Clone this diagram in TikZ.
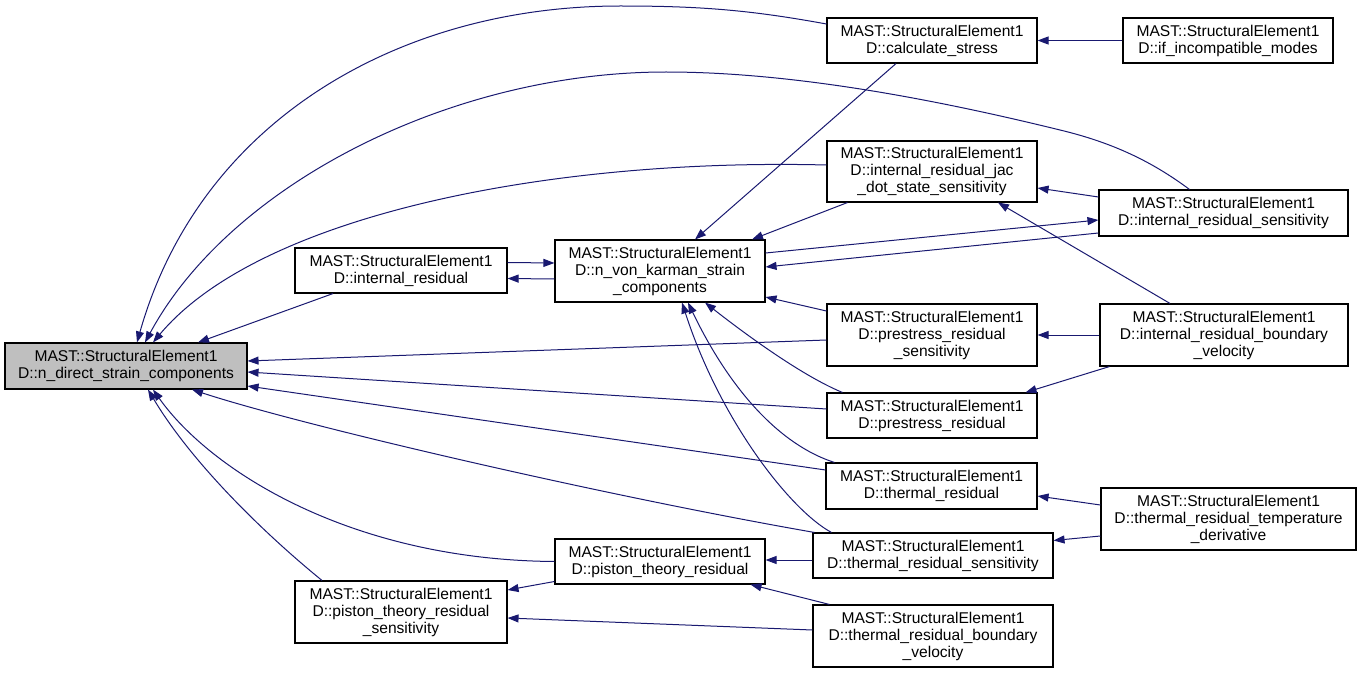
\documentclass[tikz,border=0pt]{standalone}
\usepackage{fontspec}
\setmainfont{Liberation Sans}
\usepackage{xcolor}
\definecolor{edgeBlue}  {HTML}{191970}
\definecolor{focusBack} {HTML}{BFBFBF}
\usetikzlibrary{arrows.meta}

\tikzset{
    fn/.style={draw=black, line width=1.1pt, fill=white, align=center,
               inner sep=2pt, minimum width=210pt, minimum height=45pt,
               font=\fontsize{15.6}{17}\selectfont},
    focus/.style={fn, fill=focusBack},
    call/.style={draw=edgeBlue, line width=1pt, -{Triangle[length=11pt, width=8pt]}},
}

\begin{document}
\begin{tikzpicture}[x=1pt, y=-1pt]
    \useasboundingbox (0,0) rectangle (1361,674);

    % --- The function itself and its direct callers ---
    \node[focus, minimum width=242pt, minimum height=46pt] (nds) at (126,366)
        {MAST::StructuralElement1\\D::n\_direct\_strain\_components};
    \node[fn, minimum width=212pt] (intres) at (401,270.5)
        {MAST::StructuralElement1\\D::internal\_residual};
    \node[fn, minimum height=62pt] (nvk) at (660,271)
        {MAST::StructuralElement1\\D::n\_von\_karman\_strain\\\_components};
    \node[fn, minimum width=212pt, minimum height=62pt] (pistsens) at (401,612)
        {MAST::StructuralElement1\\D::piston\_theory\_residual\\\_sensitivity};
    \node[fn] (piston) at (660,561.5)
        {MAST::StructuralElement1\\D::piston\_theory\_residual};

    % --- Third column ---
    \node[fn] (calcstress) at (932,40.5)
        {MAST::StructuralElement1\\D::calculate\_stress};
    \node[fn, minimum height=61pt] (jacdot) at (932,171.5)
        {MAST::StructuralElement1\\D::internal\_residual\_jac\\\_dot\_state\_sensitivity};
    \node[fn, minimum height=62pt] (prsens) at (932,335)
        {MAST::StructuralElement1\\D::prestress\_residual\\\_sensitivity};
    \node[fn] (prres) at (932,415.5)
        {MAST::StructuralElement1\\D::prestress\_residual};
    \node[fn, minimum width=211pt, minimum height=46pt] (thres) at (931.5,486)
        {MAST::StructuralElement1\\D::thermal\_residual};
    \node[fn, minimum width=240pt] (thsens) at (933,555.5)
        {MAST::StructuralElement1\\D::thermal\_residual\_sensitivity};
    \node[fn, minimum width=240pt, minimum height=62pt] (thbv) at (933,636)
        {MAST::StructuralElement1\\D::thermal\_residual\_boundary\\\_velocity};

    % --- Outer column ---
    \node[fn] (incomp) at (1228,40.5)
        {MAST::StructuralElement1\\D::if\_incompatible\_modes};
    \node[fn, minimum width=249pt, minimum height=46pt] (intressens) at (1223.5,213)
        {MAST::StructuralElement1\\D::internal\_residual\_sensitivity};
    \node[fn, minimum width=248pt, minimum height=62pt] (intbv) at (1224,335)
        {MAST::StructuralElement1\\D::internal\_residual\_boundary\\\_velocity};
    \node[fn, minimum width=255pt, minimum height=62pt] (thtemp) at (1228.5,519)
        {MAST::StructuralElement1\\D::thermal\_residual\_temperature\\\_derivative};

    % --- Calls into n_direct_strain_components ---
    \draw[call] ([yshift=16.5pt]calcstress.west) .. controls (750,10) and (700,6) .. (620,6)
        .. controls (400,6) and (200,120) .. ([xshift=11pt]nds.north);
    \draw[call] ([xshift=-34pt]intressens.north) .. controls (1150,160) and (1110,142) .. (1060,130)
        .. controls (950,103) and (800,72) .. (666,72)
        .. controls (450,72) and (230,185) .. ([xshift=19pt]nds.north);
    \draw[call] ([yshift=6.5pt]jacdot.west) .. controls (550,158) and (260,215) .. ([xshift=27pt]nds.north);
    \draw[call] ([xshift=-68pt]intres.south) -- ([xshift=72pt]nds.north);
    \draw[call] ([yshift=-5pt]prsens.west) -- ([yshift=5pt]nds.east);
    \draw[call] ([yshift=6.5pt]prres.west) -- ([yshift=-6pt]nds.east);
    \draw[call] ([yshift=16pt]thres.west) -- ([yshift=-20pt]nds.east);
    \draw[call] ([xshift=2pt]thsens.north west) .. controls (600,495) and (300,425) .. ([xshift=66pt]nds.south);
    \draw[call] (piston.west) .. controls (350,560) and (210,470) .. ([xshift=27pt]nds.south);
    \draw[call] ([xshift=-79pt]pistsens.north) .. controls (260,530) and (190,460) .. ([xshift=22pt]nds.south);

    % --- Calls into n_von_karman_strain_components ---
    \draw[call] ([yshift=8pt]intres.east) -- ([yshift=8pt]nvk.west);
    \draw[call] ([yshift=-8pt]nvk.west) -- ([yshift=-8pt]intres.east);
    \draw[call] ([xshift=-36pt]calcstress.south) -- ([xshift=35pt]nvk.north);
    \draw[call] ([xshift=21pt]jacdot.south west) -- ([xshift=92pt]nvk.north);
    \draw[call] ([yshift=18pt]nvk.east) -- ([yshift=-7pt]intressens.west);
    \draw[call] ([yshift=-20pt]intressens.west) -- ([yshift=4pt]nvk.east);
    \draw[call] ([yshift=24pt]prsens.west) -- ([yshift=-26pt]nvk.east);
    \draw[call] ([xshift=16pt]prres.north west) .. controls (800,375) and (740,330) .. ([xshift=45pt]nvk.south);
    \draw[call] ([xshift=9pt]thres.north west) .. controls (780,445) and (730,390) .. ([xshift=28pt]nvk.south);
    \draw[call] ([xshift=19pt]thsens.north west) .. controls (790,510) and (720,420) .. ([xshift=22pt]nvk.south);

    % --- Remaining calls ---
    \draw[call] (incomp.west) -- (calcstress.east);
    \draw[call] ([yshift=16pt]intressens.west) -- ([yshift=-16.5pt]jacdot.east);
    \draw[call] ([xshift=-54pt]intbv.north) -- ([xshift=66pt]jacdot.south);
    \draw[call] (intbv.west) -- (prsens.east);
    \draw[call] ([xshift=10pt]intbv.south west) -- ([xshift=-12pt]prres.north east);
    \draw[call] ([yshift=14pt]thtemp.west) -- ([yshift=-10pt]thres.east);
    \draw[call] ([yshift=-17pt]thtemp.west) -- ([yshift=15pt]thsens.east);
    \draw[call] ([yshift=-4.5pt]thsens.west) -- ([yshift=1.5pt]piston.east);
    \draw[call] ([xshift=17pt]thbv.north west) -- ([xshift=-15pt]piston.south east);
    \draw[call] ([yshift=-20pt]piston.west) -- ([yshift=22pt]pistsens.east);
    \draw[call] ([yshift=6pt]thbv.west) -- ([yshift=-6pt]pistsens.east);
\end{tikzpicture}
\end{document}
